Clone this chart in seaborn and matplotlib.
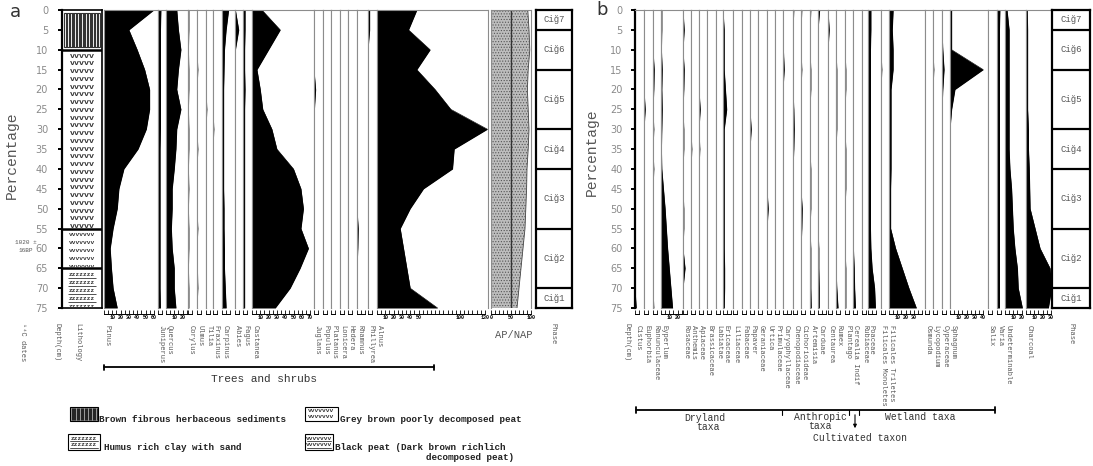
import numpy as np
import seaborn as sns
import matplotlib.pyplot as plt
from matplotlib.patches import Rectangle

# ------------------ Data (percentages at 5 cm depth steps) ------------------
depths = [0, 5, 10, 15, 20, 25, 30, 35, 40, 45, 50, 55, 60, 65, 70, 75]

# panel a - trees and shrubs
pinus = [60, 30, 40, 49, 55, 55, 51, 41, 24, 18, 16, 11, 7.5, 9, 11, 16]
juniperus = [3.5, 3, 3, 3, 3, 3, 3, 2.5, 2.5, 2.5, 2.5, 2.5, 2.5, 2.5, 2.5, 3]
quercus = [13, 15, 18, 15, 13, 18, 13, 12, 10, 7.5, 7.5, 6.5, 7.5, 10, 10, 12]
corylus = [1, 1, 0.5, 1, 1, 0.5, 1, 1, 0.5, 1, 0.5, 1, 1, 0.5, 1, 1]
ulmus = [0, 0.5, 0, 1, 0, 0.5, 0, 1, 0, 0.5, 0, 1, 0, 0.5, 1, 0]
tilia = [0, 0, 0.5, 0, 0, 1, 0, 0, 0.5, 0, 0, 0, 0.5, 0, 0, 0.5]
fraxinus = [0.5, 0, 0, 0.5, 0, 0, 1, 0, 0, 0, 0.5, 0, 0, 0, 0.5, 0.5]
carpinus = [8, 5, 3, 2.5, 2, 2, 2, 2, 2, 2, 2.5, 2.5, 3, 3, 4, 5]
abies = [0.5, 4.5, 0.5, 0, 0, 0, 0, 0, 0, 0, 0, 0, 0, 0, 0, 0]
fagus = [2.5, 2.5, 2, 2, 2.5, 2, 2, 2, 2, 2, 2, 2, 2, 2, 2, 2]
castanea = [12, 34, 20, 6, 10, 13, 24, 30, 50, 59, 62, 59, 68, 58, 46, 28]
juglans = [0, 0, 0, 0, 2, 0.5, 0, 0, 0, 0, 0, 0, 0, 0, 0, 0]
populus = [0, 0, 0, 0, 0, 0, 0, 0, 0, 0, 0, 0, 0, 0, 0, 0]
platanus = [0, 0, 0, 0, 0, 0, 0, 0, 0, 0, 0, 0, 0, 0, 0, 0]
lonicera = [0, 0, 0, 0, 0, 0, 0, 0, 0, 0, 0, 0, 0, 0, 0, 0]
hedera = [0, 0, 0, 0, 0, 0, 0, 0, 0, 0, 0, 0, 0, 0, 0, 0]
rhamnus = [0, 0, 0, 0, 0, 0, 0, 0, 0, 0, 0, 1.5, 1, 0, 0, 0]
phillyrea = [2, 2, 0, 0, 0, 0, 0, 0, 0, 0, 0, 0, 0, 0, 0, 0]
alnus = [48, 38, 64, 48, 70, 89, 133, 93, 91, 56, 40, 28, 32, 36, 40, 73]
ap = [92, 95, 97, 93, 91, 93, 95, 93, 90, 89, 87, 85, 80, 75, 70, 65]

taxa_a = ["Pinus", "Juniperus", "Quercus", "Corylus", "Ulmus", "Tilia", "Fraxinus",
          "Carpinus", "Abies", "Fagus", "Castanea", "Juglans", "Populus", "Platanus",
          "Lonicera", "Hedera", "Rhamnus", "Phillyrea", "Alnus"]
values_a = [pinus, juniperus, quercus, corylus, ulmus, tilia, fraxinus, carpinus, abies,
            fagus, castanea, juglans, populus, platanus, lonicera, hedera, rhamnus,
            phillyrea, alnus]

# panel b - herbs, wetland taxa, charcoal
cistus = [0, 0, 0, 0, 0, 0, 0, 0, 0, 0, 0, 0, 0, 0, 0, 1.5]
euphorbia = [0, 0, 0, 0, 0, 1.5, 0, 0, 0, 0, 0, 0, 0, 0, 0, 0]
ranunculaceae = [0, 0, 0, 1.5, 1, 0, 1, 0, 1, 0, 0, 0, 0, 0, 0, 1]
eyperlum = [1, 1, 0.5, 1.5, 1, 1.5, 1, 0.5, 1, 3, 5, 6.5, 8, 10, 12, 14]
rosaceae = [0, 1.5, 0, 1.5, 1, 0, 1, 1, 0, 0, 1, 1, 0, 2.5, 0, 0]
anthemis = [0, 0, 0, 0, 0, 0, 0, 1, 0, 0, 0, 0, 0, 0, 0, 0]
apiaceae = [0, 0, 0, 0, 0, 1.5, 0, 1, 0, 0, 0, 0, 0, 0, 0, 0]
brassicaceae = [0, 0, 0, 0, 0, 0, 0, 0, 0, 0, 0.5, 0, 0, 0, 0, 0]
labiatae = [0, 0, 0, 0, 0, 0, 0, 0, 0, 0, 0, 0, 0, 0, 0, 0]
ericaceae = [0, 1.5, 1.5, 1.5, 3, 4.5, 1.5, 1.5, 1.5, 1.5, 1.5, 1.5, 1.5, 2, 2, 1.5]
liliaceae = [0, 0, 0, 0, 0, 0, 0, 0, 0, 0, 0, 0, 0, 0, 0, 0]
fabaceae = [0, 0, 0, 0, 0, 0, 0, 0, 0, 0, 0, 0, 0, 0, 0, 0]
papaver = [0, 0, 0, 0, 0, 0, 1.5, 0, 0, 0, 0, 0, 0, 0, 0, 0]
geraniaceae = [0, 0, 0, 0, 0, 0, 0, 0, 0, 0, 0, 0, 0, 0, 0, 0]
urtica = [0, 0, 0, 0, 0, 0, 0, 0, 0, 0, 1.5, 0, 0, 0, 0, 0]
primulaceae = [0, 0, 0, 0, 0, 0, 0, 0, 0, 0, 0, 0, 0, 0, 0, 0]
caryophyllaceae = [0, 0, 0.5, 1.5, 0, 0, 0, 0, 0, 0, 0, 0, 0, 0, 0, 0]
chenopodiaceae = [1, 0, 0, 0, 0, 1, 1.5, 1, 0, 0, 0, 0, 0, 0, 0, 0]
cichorioideae = [1, 0, 0, 1, 0, 0, 0, 0, 0, 0, 1.5, 1, 0, 0, 0, 0]
artemisia = [1, 0, 0, 1, 1, 0, 0, 0, 1, 1, 1, 0, 1, 1, 1, 1.5]
carduae = [2, 0, 0, 0, 0, 0, 0, 0, 0, 0, 0, 0, 1, 1, 1.5, 1.5]
centaurea = [0, 1.5, 0, 0, 0, 0, 0, 0, 0, 0, 0, 0, 0, 0, 0, 0]
rumex = [0, 0, 0, 1, 1, 1, 1, 0, 0, 0, 0, 0, 0, 0, 1, 2.5]
plantago = [0, 0, 0, 1, 1, 0, 0, 1, 1, 1, 0, 0, 0, 1, 1, 1]
cerealia = [0, 0, 0, 0, 0, 0, 0, 0, 0, 0, 0, 0, 0.5, 1.5, 2, 3]
rubiaceae = [0, 0, 0.5, 0, 0, 0, 0, 0, 0, 0, 0, 0, 0, 0, 0, 0]
poaceae = [3.5, 3.5, 3, 3, 3, 3, 3, 3, 3, 3, 3, 3, 3.5, 5, 8, 9]
fil_monoletes = [0, 0, 0, 1, 0, 0, 0, 0, 0, 0, 0, 0, 0, 0, 0, 0]
fil_triletes = [5, 4, 5, 5, 2.5, 2.5, 2.5, 2.5, 2.5, 2, 2, 2, 8, 16, 24, 33]
osmunda = [0, 0, 0, 0, 0, 0, 0, 0, 0, 0, 0, 0, 0, 0, 0, 0]
lycopodium = [0, 0, 0, 1, 0, 0, 0, 0, 0, 0, 0, 0, 0, 0, 0, 0]
cyperaceae = [0, 0, 1, 2.5, 1, 0, 0, 0, 0, 0, 0, 0, 0, 0, 0, 0]
sphagnum = [2, 2, 2, 40, 6, 2, 0, 0, 0, 0, 0, 0, 0, 0, 0, 0]
salix = [0, 0, 0, 0, 0, 0, 0, 0, 0, 0, 0, 0, 0, 0, 0, 0]
varia = [3.5, 3, 3, 3, 3, 3, 3, 3, 3, 3, 3, 3, 3, 3, 3, 3]
undeterminable = [2.5, 5, 5, 5, 5, 5, 5, 5, 6, 8, 9, 10, 12, 15, 16, 21]
charcoal = [1.5, 2, 2, 2, 2, 2, 3, 3, 4, 4.5, 5, 11, 17, 29, 31, 27]

taxa_b = ["Cistus", "Euphorbia", "Ranunculaceae", "Eyperlum", "Rosaceae", "Anthemis",
          "Apiaceae", "Brassicaceae", "Labiatae", "Ericaceae", "Liliaceae", "Fabaceae",
          "Papaver", "Geraniaceae", "Urtica", "Primulaceae", "Caryophyllaceae",
          "Chenopodiaceae", "Cichorioideae", "Artemisia", "Carduae", "Centaurea", "Rumex",
          "Plantago", "Cerealia Indif", "Rubiaceae", "Poaceae", "Filicales Monoletes",
          "Filicales Triletes", "Osmunda", "Lycopodium", "Cyperaceae", "Sphagnum", "Salix",
          "Varia", "Undeterminable", "Charcoal"]
values_b = [cistus, euphorbia, ranunculaceae, eyperlum, rosaceae, anthemis, apiaceae,
            brassicaceae, labiatae, ericaceae, liliaceae, fabaceae, papaver, geraniaceae,
            urtica, primulaceae, caryophyllaceae, chenopodiaceae, cichorioideae, artemisia,
            carduae, centaurea, rumex, plantago, cerealia, rubiaceae, poaceae, fil_monoletes,
            fil_triletes, osmunda, lycopodium, cyperaceae, sphagnum, salix, varia,
            undeterminable, charcoal]

phase_names = ["Ciğ7", "Ciğ6", "Ciğ5", "Ciğ4", "Ciğ3", "Ciğ2", "Ciğ1"]
phase_bounds = [0, 5, 15, 30, 40, 55, 70, 75]

ruler_labels = {"Pinus": [10, 20, 30, 40, 50, 60], "Quercus": [10, 20],
                "Castanea": [10, 20, 30, 40, 50, 60, 70],
                "Alnus": [10, 20, 30, 40, 50, 100, 130], "Eyperlum": [10, 20],
                "Filicales Triletes": [10, 20, 30], "Sphagnum": [10, 20, 30, 40],
                "Undeterminable": [10, 20], "Charcoal": [10, 20, 30]}

# ------------------ Layout (pixels) ------------------
W, H = 1093, 466
TOP, BOT = 10, 308
PX = 0.83  # pixels per percent
edges_a = [104, 158, 166, 188, 197, 206, 213, 222, 235, 243, 252, 314, 323, 331, 340,
           348, 357, 368, 377, 488]
edges_b = [635, 644, 653, 661, 683, 691, 699, 707, 716, 723, 733, 742, 750, 758, 767,
           775, 783, 793, 801, 810, 818, 828, 836, 845, 853, 862, 868, 881, 889, 925,
           933, 942, 950, 988, 997, 1005, 1026, 1052]

sns.set_theme(style="white")
plt.rcParams['font.family'] = ['Liberation Mono', 'DejaVu Sans Mono']
plt.rcParams['hatch.linewidth'] = 0.5
GREY = '#555555'

fig = plt.figure(figsize=(W / 100, H / 100), dpi=100)


def px_axes(x0, x1, y0=TOP, y1=BOT):
    return fig.add_axes([x0 / W, 1 - y1 / H, (x1 - x0) / W, (y1 - y0) / H])


def ruler(ax, xmax, step, labels):
    top = max(step, step * np.floor((xmax - 1) / step))
    ticks = np.arange(0, top + 0.1, step)
    ax.spines['bottom'].set_position(('outward', 4))
    ax.spines['bottom'].set_bounds(0, top)
    ax.spines['bottom'].set_color('black')
    ax.spines['bottom'].set_linewidth(0.7)
    ax.set_xticks(ticks, [str(int(t)) if int(t) in labels else '' for t in ticks])
    ax.tick_params(axis='x', bottom=True, direction='in', length=3, width=0.6,
                   labelsize=3.6, pad=1.2, colors='black')
    for t in ax.get_xticklabels():
        t.set_fontweight('bold')


def depth_axis(ax, pad):
    ax.spines['left'].set_color('black')
    ax.spines['left'].set_linewidth(1.6)
    ax.set_yticks(depths)
    ax.tick_params(axis='y', left=True, direction='out', length=3, width=1.4,
                   color='black', labelcolor='#8a8a8a', labelsize=7, pad=pad)
    for t in ax.get_yticklabels():
        t.set_fontfamily('DejaVu Sans')


def draw_taxon(x0, x1, vals, name):
    ax = px_axes(x0, x1)
    xmax = (x1 - x0) / PX
    ax.fill_betweenx(depths, 0, vals, color='black', lw=0)
    if max(vals) > 0:
        sns.lineplot(x=vals, y=depths, orient='y', color='black', lw=0.4,
                     errorbar=None, ax=ax)
    ax.set_xlim(0, xmax)
    ax.set_ylim(75, 0)
    ax.set_xlabel('')
    ax.set_ylabel('')
    ax.set_yticks([])
    for s in ['top', 'left', 'right']:
        ax.spines[s].set_color('#8c8c8c')
        ax.spines[s].set_linewidth(0.8)
    ruler(ax, xmax, 5, ruler_labels.get(name, []))
    fig.text((x0 + 3) / W, 1 - 325 / H, name, rotation=270, ha='center', va='top',
             fontsize=5, color=GREY)
    return ax


def draw_phases(x0, x1):
    ax = px_axes(x0, x1)
    ax.set_xlim(0, 1)
    ax.set_ylim(75, 0)
    ax.set_xticks([])
    ax.set_yticks([])
    for s in ax.spines.values():
        s.set_color('black')
        s.set_linewidth(1.6)
    for i, name in enumerate(phase_names):
        a, b = phase_bounds[i], phase_bounds[i + 1]
        if i > 0:
            ax.axhline(a, color='black', lw=1.6)
        ax.text(0.5, (a + b) / 2, name, ha='center', va='center', fontsize=6.5,
                color=GREY)


# ------------------ Panel a ------------------
for i, (name, vals) in enumerate(zip(taxa_a, values_a)):
    draw_taxon(edges_a[i], edges_a[i + 1], vals, name)

# AP/NAP
ax_ap = px_axes(491, 531)
ax_ap.fill_betweenx(depths, 0, ap, facecolor='#bdbdbd', edgecolor='#555555',
                    hatch='......', lw=0)
sns.lineplot(x=ap, y=depths, orient='y', color='#444444', lw=0.6, errorbar=None, ax=ax_ap)
ax_ap.axvline(50, color='#333333', lw=1)
ax_ap.set_xlim(0, 100)
ax_ap.set_ylim(75, 0)
ax_ap.set_xlabel('')
ax_ap.set_ylabel('')
ax_ap.set_yticks([])
for s in ['top', 'left', 'right']:
    ax_ap.spines[s].set_color('#8c8c8c')
    ax_ap.spines[s].set_linewidth(0.8)
ruler(ax_ap, 101, 10, [0, 50, 100])

draw_phases(536, 572)

# lithology
ax_l = px_axes(62, 102)
ax_l.set_xlim(0, 1)
ax_l.set_ylim(75, 0)
ax_l.set_xticks([])
for s in ax_l.spines.values():
    s.set_color('black')
    s.set_linewidth(1.2)
depth_axis(ax_l, 7)
ax_l.vlines(np.linspace(0.1, 0.9, 24), 0.8, 9.3, color='#333333', lw=0.8)
ax_l.add_patch(Rectangle((0.06, 0.8), 0.88, 8.5, fill=False, ec='#333333', lw=0.8))
for d in np.arange(11.6, 55, 1.95):
    ax_l.text(0.5, d, 'vvvvv', ha='center', va='center', fontsize=6, fontweight='bold',
              color='#333333')
for d in np.arange(56.5, 65, 2):
    ax_l.text(0.5, d, 'vvvvvvv', ha='center', va='center', fontsize=4.5,
              fontweight='bold', color='#333333')
for d in np.arange(66.6, 75, 2):
    ax_l.text(0.5, d, 'zzzzzzz', ha='center', va='center', fontsize=4.5,
              fontweight='bold', color='#333333')
    ax_l.hlines(d + 0.9, 0.15, 0.85, color='#333333', lw=0.6)
for d in [10, 55, 65]:
    ax_l.axhline(d, color='black', lw=1.8)

# ------------------ Panel b ------------------
axes_b = []
for i, (name, vals) in enumerate(zip(taxa_b, values_b)):
    axes_b.append(draw_taxon(edges_b[i], edges_b[i + 1], vals, name))
depth_axis(axes_b[0], 6)
draw_phases(1052, 1090)

# ------------------ Annotations (pixel overlay) ------------------
ov = fig.add_axes([0, 0, 1, 1], zorder=10)
ov.set_xlim(0, W)
ov.set_ylim(H, 0)
ov.axis('off')

ov.text(10, 12, 'a', fontsize=13, family='DejaVu Sans', color='#333333', va='center')
ov.text(596, 10, 'b', fontsize=13, family='DejaVu Sans', color='#333333', va='center')
ov.text(12, 155, 'Percentage', rotation=90, ha='center', va='center', fontsize=10.5,
        color=GREY)
ov.text(592, 152, 'Percentage', rotation=90, ha='center', va='center', fontsize=10.5,
        color=GREY)
ov.text(26, 243, '1020 ±', ha='center', va='center', fontsize=4.3, color=GREY)
ov.text(26, 250, '16BP', ha='center', va='center', fontsize=4.3, color=GREY)

for x, s in [(22, '¹⁴C dates'), (57, 'Depth(cm)'), (78, 'Lithology'), (553, 'Phase'),
             (627, 'Depth(cm)'), (1071, 'Phase')]:
    ov.text(x, 323, s, rotation=270, ha='center', va='top', fontsize=5, color=GREY)
ov.text(514, 335, 'AP/NAP', ha='center', va='center', fontsize=7.5, color=GREY)

# trees and shrubs bar
ov.plot([104, 434], [367, 367], color='black', lw=1.3)
ov.plot([104, 104], [364.5, 369.5], color='black', lw=1.3)
ov.plot([434, 434], [364.5, 369.5], color='black', lw=1.3)
ov.text(264, 379, 'Trees and shrubs', ha='center', va='center', fontsize=8, color='#333333')

# panel b group bar
ov.plot([636, 995], [410, 410], color='black', lw=1.3)
for x in [636, 995]:
    ov.plot([x, x], [407, 413], color='black', lw=1.3)
for x in [782, 849, 859]:
    ov.plot([x, x], [410, 415], color='black', lw=0.8)
ov.annotate('', xy=(855, 431), xytext=(855, 412),
            arrowprops=dict(arrowstyle='-|>', color='black', lw=0.8, mutation_scale=5))
for x, y, s in [(705, 418, 'Dryland'), (708, 427, 'taxa'), (820, 417, 'Anthropic'),
                (820, 426, 'taxa'), (920, 417, 'Wetland taxa'),
                (860, 438, 'Cultivated taxon')]:
    ov.text(x, y, s, ha='center', va='center', fontsize=7, color='#333333')

# lithology legend
ov.add_patch(Rectangle((70, 407), 28, 14, facecolor='#9a9a9a', edgecolor='black', lw=0.8))
ov.vlines(np.linspace(71.5, 96.5, 20), 408, 420, color='#222222', lw=0.7)
ov.add_patch(Rectangle((305, 407), 33, 14, fill=False, edgecolor='black', lw=0.8))
ov.add_patch(Rectangle((68, 434), 32, 16, fill=False, edgecolor='black', lw=0.8))
ov.add_patch(Rectangle((305, 434), 28, 16, fill=False, edgecolor='black', lw=0.8))
for y in [410.5, 417]:
    ov.text(321.5, y, 'vvvvvvv', ha='center', va='center', fontsize=4.5,
            fontweight='bold', color='#333333')
for y in [438, 445]:
    ov.text(84, y, 'zzzzzzz', ha='center', va='center', fontsize=4.5,
            fontweight='bold', color='#333333')
    ov.plot([70, 98], [y + 3, y + 3], color='#333333', lw=0.6)
    ov.text(319, y, 'vvvvvvv', ha='center', va='center', fontsize=4.5,
            fontweight='bold', color='#333333')
    ov.plot([307, 331], [y + 3, y + 3], color='#333333', lw=0.6)
for x, y, s, ha in [(99, 420, 'Brown fibrous herbaceous sediments', 'left'),
                    (340, 420, 'Grey brown poorly decomposed peat', 'left'),
                    (104, 447, 'Humus rich clay with sand', 'left'),
                    (335, 447, 'Black peat (Dark brown richlich', 'left'),
                    (514, 457, 'decomposed peat)', 'right')]:
    ov.text(x, y, s, ha=ha, va='center', fontsize=6.7, fontweight='bold', color='#222222')

fig.savefig('out.png', dpi=100)
